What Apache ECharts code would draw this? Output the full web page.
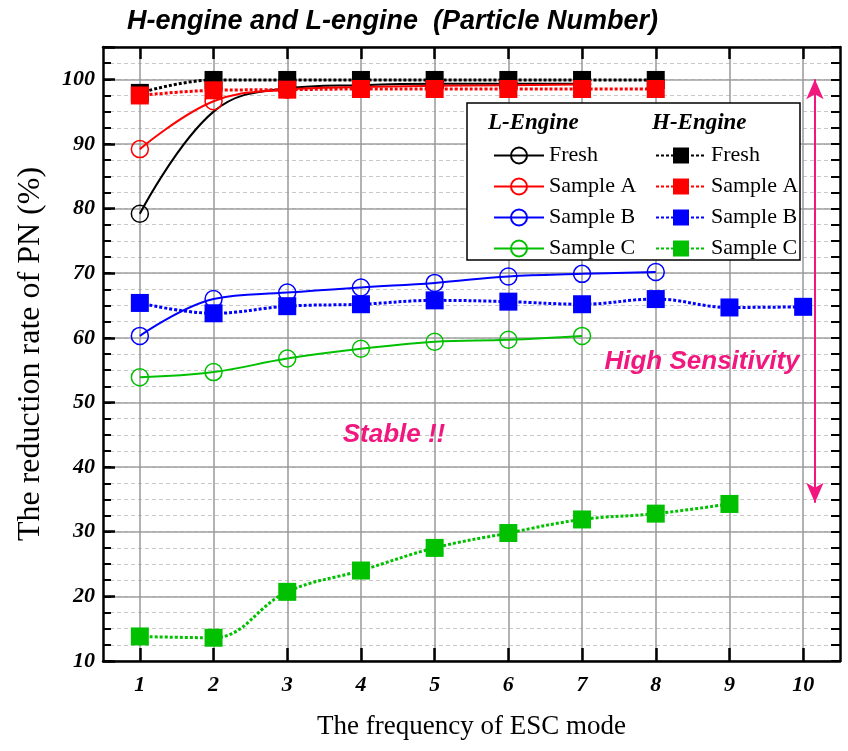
<!DOCTYPE html>
<html><head><meta charset="utf-8">
<script src="https://cdn.jsdelivr.net/npm/echarts@6/dist/echarts.min.js"></script>
<style>html,body{margin:0;padding:0;background:#fff}#c{width:848px;height:751px}</style>
</head><body><div id="c"></div>
<script>
// ---- data ----
const xTicks = [1, 2, 3, 4, 5, 6, 7, 8, 9, 10];
const yTickLabels = [10, 20, 30, 40, 50, 60, 70, 80, 90, 100];

const lFreshX = [1, 2, 3, 4, 5, 6, 7];
const lFresh = [79.2, 95.0, 98.6, 99.1, 99.3, 99.3, 99.3];
const lFreshHiddenMarkerX = [2];
const lSampleAX = [1, 2, 3, 4, 5, 6, 7];
const lSampleA = [89.2, 96.6, 98.4, 98.8, 99.0, 99.1, 99.2];
const lSampleBX = [1, 2, 3, 4, 5, 6, 7, 8];
const lSampleB = [60.3, 66.0, 67.0, 67.8, 68.5, 69.5, 69.9, 70.2];
const lSampleCX = [1, 2, 3, 4, 5, 6, 7];
const lSampleC = [53.9, 54.7, 56.8, 58.3, 59.4, 59.7, 60.3];

const hFreshX = [1, 2, 3, 4, 5, 6, 7, 8];
const hFresh = [97.9, 99.9, 99.9, 99.9, 99.9, 99.9, 99.9, 99.9];
const hSampleAX = [1, 2, 3, 4, 5, 6, 7, 8];
const hSampleA = [97.5, 98.3, 98.4, 98.5, 98.5, 98.5, 98.5, 98.5];
const hSampleBX = [1, 2, 3, 4, 5, 6, 7, 8, 9, 10];
const hSampleB = [65.4, 63.8, 64.9, 65.2, 65.8, 65.6, 65.2, 66.0, 64.7, 64.8];
const hSampleCX = [1, 2, 3, 4, 5, 6, 7, 8, 9];
const hSampleC = [13.8, 13.6, 20.7, 24.0, 27.5, 29.8, 31.9, 32.8, 34.3];

const arrowX = [10.16, 10.16];
const arrowY = [100, 34.5];

// ---- helpers ----
const SERIF = '"Liberation Serif", "Times New Roman", "DejaVu Serif", serif';
const SANS = '"Liberation Sans", Arial, "DejaVu Sans", sans-serif';
const PINK = '#f2177f';

function pts(xs, ys, hidden) {
  return xs.map((x, i) => {
    if (hidden && hidden.indexOf(x) >= 0) return { value: [x, ys[i]], symbol: 'none' };
    return [x, ys[i]];
  });
}
function lSeries(name, color, xs, ys, hidden) {
  return {
    name: name, type: 'line', smooth: 0.4, data: pts(xs, ys, hidden),
    symbol: 'circle', symbolSize: 17, showAllSymbol: true, z: 2,
    lineStyle: { color: color, width: 2, type: 'solid' },
    itemStyle: { color: 'rgba(255,255,255,0)', borderColor: color, borderWidth: 1.5 },
    emphasis: { disabled: true }, animation: false
  };
}
function hSeries(name, color, xs, ys) {
  return {
    name: name, type: 'line', smooth: 0.4, data: pts(xs, ys),
    symbol: 'rect', symbolSize: 18, showAllSymbol: true, z: 3,
    lineStyle: { color: color, width: 3, type: [3, 2] },
    itemStyle: { color: color, borderWidth: 0 },
    emphasis: { disabled: true }, animation: false
  };
}

const chart = echarts.init(document.getElementById('c'), null, { renderer: 'canvas' });

const series = [
  lSeries('L Fresh', '#000000', lFreshX, lFresh, lFreshHiddenMarkerX),
  lSeries('L Sample A', '#ff0000', lSampleAX, lSampleA),
  lSeries('L Sample B', '#0000ff', lSampleBX, lSampleB),
  lSeries('L Sample C', '#00c000', lSampleCX, lSampleC),
  hSeries('H Fresh', '#000000', hFreshX, hFresh),
  hSeries('H Sample A', '#ff0000', hSampleAX, hSampleA),
  hSeries('H Sample B', '#0000ff', hSampleBX, hSampleB),
  hSeries('H Sample C', '#00c000', hSampleCX, hSampleC)
];
series[6].markLine = {
  silent: true, animation: false,
  symbol: ['arrow', 'arrow'], symbolSize: [13, 20],
  lineStyle: { color: PINK, width: 2, type: 'solid' },
  label: { show: false },
  data: [[{ coord: [arrowX[0], arrowY[0]] }, { coord: [arrowX[1], arrowY[1]] }]]
};

const legendCommon = {
  orient: 'vertical', top: 138, itemWidth: 50, itemHeight: 20, itemGap: 6,
  selectedMode: false, formatter: n => n.slice(2),
  textStyle: { fontFamily: SERIF, fontSize: 22, color: '#000', lineHeight: 25 }, z: 6
};

const option = {
  backgroundColor: '#ffffff',
  animation: false,
  title: {
    text: 'H-engine and L-engine  (Particle Number)', left: 122, top: 3,
    textStyle: { fontFamily: SANS, fontSize: 27, fontStyle: 'italic', fontWeight: 'bold', color: '#000' }
  },
  grid: { left: 103, right: 8, top: 47, bottom: 90 },
  legend: [
    Object.assign({ left: 488, data: ['L Fresh', 'L Sample A', 'L Sample B', 'L Sample C'] }, legendCommon),
    Object.assign({ left: 650, data: ['H Fresh', 'H Sample A', 'H Sample B', 'H Sample C'] }, legendCommon)
  ],
  xAxis: [
    {
      type: 'value', position: 'bottom', min: 0.5, max: 10.5,
      name: 'The frequency of ESC mode', nameLocation: 'middle', nameGap: 52,
      nameTextStyle: { fontFamily: SERIF, fontSize: 27, color: '#000' },
      axisLine: { show: true, onZero: false, lineStyle: { color: '#000', width: 2.5 } },
      axisTick: { show: true, inside: true, length: 13, customValues: xTicks, lineStyle: { color: '#000', width: 2.5 } },
      axisLabel: { show: true, customValues: xTicks, margin: 13, fontFamily: SERIF, fontSize: 22, fontStyle: 'italic', fontWeight: 'bold', color: '#000' },
      splitLine: { show: true, lineStyle: { color: '#999', width: 1.5 } }
    },
    {
      type: 'value', position: 'top', min: 0.5, max: 10.5,
      axisLine: { show: true, onZero: false, lineStyle: { color: '#000', width: 2.5 } },
      axisTick: { show: true, inside: true, length: 12, customValues: xTicks, lineStyle: { color: '#000', width: 2.5 } },
      axisLabel: { show: false },
      splitLine: { show: false }
    }
  ],
  yAxis: [
    {
      type: 'value', position: 'left', min: 10, max: 105, interval: 2.5,
      name: 'The reduction rate of PN (%)', nameLocation: 'middle', nameGap: 56,
      nameTextStyle: { fontFamily: SERIF, fontSize: 32, color: '#000' },
      axisLine: { show: true, onZero: false, lineStyle: { color: '#000', width: 2.5 } },
      axisTick: { show: true, inside: true, length: 8, lineStyle: { color: '#000', width: 2 } },
      axisLabel: {
        show: true, margin: 8, fontFamily: SERIF, fontSize: 22, fontStyle: 'italic', fontWeight: 'bold', color: '#000',
        formatter: v => (yTickLabels.indexOf(Math.round(v * 100) / 100) >= 0 ? String(v) : '')
      },
      splitLine: { show: true, lineStyle: { color: '#c8c8c8', width: 1, type: [4, 3] } }
    },
    {
      type: 'value', position: 'right', min: 10, max: 105, interval: 2.5,
      axisLine: { show: true, onZero: false, lineStyle: { color: '#000', width: 2.5 } },
      axisTick: { show: true, inside: true, length: 9, lineStyle: { color: '#000', width: 2 } },
      axisLabel: { show: false },
      splitLine: { show: false }
    },
    {
      type: 'value', position: 'left', min: 10, max: 105, interval: 10,
      axisLine: { show: false },
      axisTick: { show: true, inside: true, length: 12, lineStyle: { color: '#000', width: 2.5 } },
      axisLabel: { show: false },
      splitLine: { show: true, lineStyle: { color: '#a0a0a0', width: 1.5 } }
    }
  ],
  series: series,
  graphic: [
    { type: 'rect', z: 5, shape: { x: 467, y: 103, width: 333, height: 157 },
      style: { fill: '#fff', stroke: '#000', lineWidth: 1.5 } },
    { type: 'text', z: 7, x: 488, y: 123,
      style: { text: 'L-Engine', font: 'italic bold 23px ' + SERIF, fill: '#000', textVerticalAlign: 'middle' } },
    { type: 'text', z: 7, x: 652, y: 123,
      style: { text: 'H-Engine', font: 'italic bold 23px ' + SERIF, fill: '#000', textVerticalAlign: 'middle' } },
    { type: 'text', z: 7, x: 394, y: 435,
      style: { text: 'Stable !!', font: 'italic bold 26px ' + SANS, fill: PINK, textAlign: 'center', textVerticalAlign: 'middle' } },
    { type: 'text', z: 7, x: 702, y: 362,
      style: { text: 'High Sensitivity', font: 'italic bold 26px ' + SANS, fill: PINK, textAlign: 'center', textVerticalAlign: 'middle' } }
  ]
};
chart.setOption(option);
</script>
</body></html>
